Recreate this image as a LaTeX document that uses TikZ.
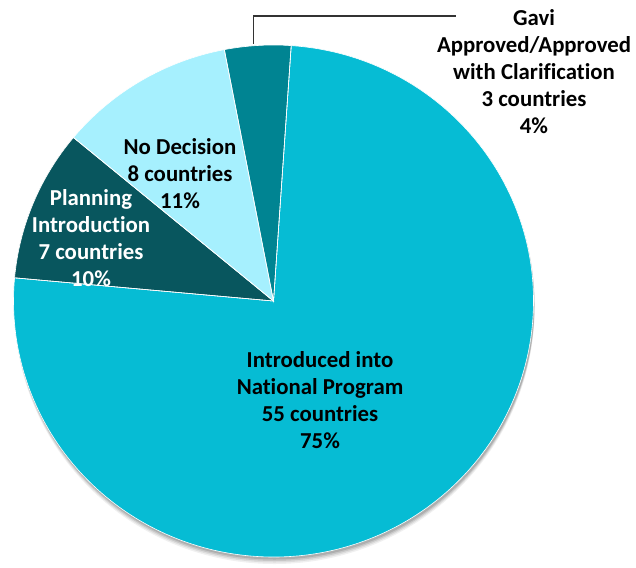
\documentclass[tikz,border=0pt]{standalone}
\usepackage{fontspec}
\setmainfont{Carlito}[Ligatures=NoCommon]
\definecolor{cIntro}{RGB}{6,188,212}
\definecolor{cPlan}{RGB}{8,86,94}
\definecolor{cNoDec}{RGB}{166,240,254}
\definecolor{cGavi}{RGB}{0,132,146}
\tikzset{
  lbl/.style={font=\bfseries\fontsize{22.8}{27}\selectfont, align=center, inner sep=1pt},
  slice/.style={draw=white, line width=0.6pt},
  leader/.style={draw=black!80, line width=1.3pt}
}
\begin{document}
\begin{tikzpicture}[x=1pt,y=-1pt]
\useasboundingbox (0,0) rectangle (636,567);
\begin{scope}[shift={(273.5,301)}, yscale=-1]
  % soft shadow
  \foreach \o/\op in {7/0.06,5.5/0.08,4/0.10,2.5/0.12}{
    \fill[black, opacity=\op] (1,-\o) ellipse [x radius=260, y radius=256];
  }
  \fill[slice, fill=cIntro] (0,0) -- (86.1:260 and 256) arc[start angle=86.1, end angle=-185.2, x radius=260, y radius=256] -- cycle;
  \fill[slice, fill=cPlan] (0,0) -- (174.8:260 and 256) arc[start angle=174.8, end angle=140.3, x radius=260, y radius=256] -- cycle;
  \fill[slice, fill=cNoDec] (0,0) -- (140.3:260 and 256) arc[start angle=140.3, end angle=100.9, x radius=260, y radius=256] -- cycle;
  \fill[slice, fill=cGavi] (0,0) -- (100.9:260 and 256) arc[start angle=100.9, end angle=86.1, x radius=260, y radius=256] -- cycle;
  \draw[slice] (0,0) -- (86.1:260 and 256);
  \draw[slice] (0,0) -- (174.8:260 and 256);
  \draw[slice] (0,0) -- (140.3:260 and 256);
  \draw[slice] (0,0) -- (100.9:260 and 256);
\end{scope}
\node[lbl] (intro) at (320,400) {Introduced into\\National Program\\55 countries\\75\%};
\node[lbl] (nodec) at (180,174) {No Decision\\8 countries\\11\%};
\node[lbl, text=white] (plan) at (91,238) {Planning\\Introduction\\7 countries\\10\%};
\node[lbl] (gavi) at (534,72) {Gavi\\Approved/Approved\\with Clarification\\3 countries\\4\%};
\coordinate (gs) at (253.3,44);
\coordinate (gl) at (456,16);
\draw[leader] (gs) |- (gl);
\end{tikzpicture}
\end{document}
